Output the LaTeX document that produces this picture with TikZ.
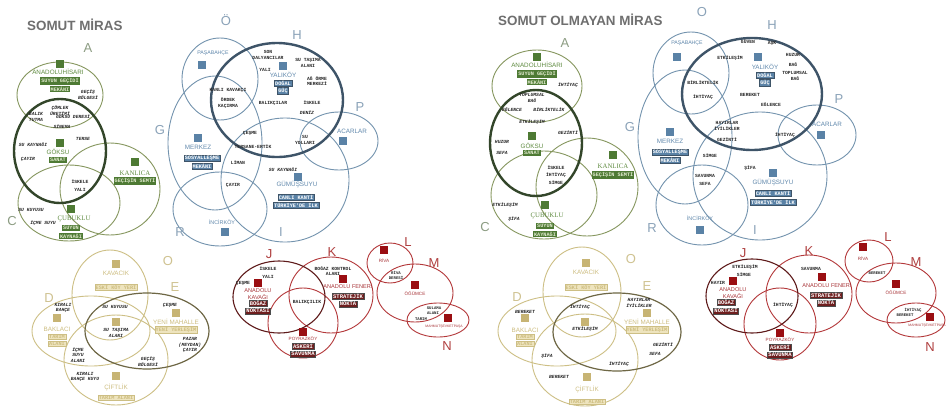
\documentclass[tikz,border=0pt]{standalone}
\usepackage{fontspec}
\setmainfont{Liberation Sans}
\newfontfamily\fsans{Liberation Sans}
\newfontfamily\fserif{Liberation Serif}
\newfontfamily\fmono{Liberation Mono}
\newcommand\fsz[2]{\fontsize{#1}{#2}\selectfont}
\definecolor{TitleGray}{HTML}{6F6F6F}
\definecolor{GrLine}{HTML}{86975F}
\definecolor{GrDark}{HTML}{33462A}
\definecolor{GrSq}{HTML}{4E7A34}
\definecolor{GrLab}{HTML}{5F8B40}
\definecolor{GrLtr}{HTML}{8C9C82}
\definecolor{GrTagT}{HTML}{E2EBCF}
\definecolor{BlLine}{HTML}{7393AE}
\definecolor{BlDark}{HTML}{3E5468}
\definecolor{BlSq}{HTML}{5A82A6}
\definecolor{BlLab}{HTML}{6088AC}
\definecolor{BlLtr}{HTML}{8AA2B8}
\definecolor{YeLine}{HTML}{CDBF85}
\definecolor{YeDark}{HTML}{6E6745}
\definecolor{YeSq}{HTML}{C7B474}
\definecolor{YeLab}{HTML}{CDBD80}
\definecolor{YeTag}{HTML}{EEE4BE}
\definecolor{YeLtr}{HTML}{CFC290}
\definecolor{ReLine}{HTML}{B3383A}
\definecolor{ReDark}{HTML}{5E1A1A}
\definecolor{ReSq}{HTML}{9A0E12}
\definecolor{ReLab}{HTML}{A83438}
\definecolor{ReTag}{HTML}{6E1E1E}
\definecolor{ReLtr}{HTML}{B04040}
\begin{document}
\begin{tikzpicture}[x=1pt,y=-1pt,
  wd/.style={font=\fmono\bfseries\fsz{4.7}{5.8}, inner sep=0, align=center, text=black!85},
  wi/.style={font=\fmono\bfseries\itshape\fsz{4.7}{5.8}, inner sep=0, align=center, text=black!85},
  lab/.style={font=\fsans\fsz{6.3}{6.6}, inner sep=0, align=center},
  labs/.style={font=\fsans\fsz{4.6}{5}, inner sep=0, align=center},
  labr/.style={font=\fserif\fsz{6.8}{7}, inner sep=0},
  tg/.style={font=\fmono\bfseries\fsz{5.2}{5.4}, inner sep=0.9pt},
  sq/.style={minimum size=8.5pt, inner sep=0, draw=none},
  ltr/.style={font=\fsans\fsz{13}{13}, inner sep=0},
  ttl/.style={font=\fsans\bfseries\fsz{13.4}{14}, inner sep=0, anchor=west, text=TitleGray},
  Gel/.style={draw=GrLine, line width=0.9pt},
  Gth/.style={draw=GrDark, line width=2.4pt},
  Gsq/.style={sq, fill=GrSq},
  Glab/.style={lab, text=GrLab},
  Gser/.style={labr, text=GrLab},
  Gtag/.style={tg, fill=GrSq, text=GrTagT},
  Gltr/.style={ltr, text=GrLtr},
  Bel/.style={draw=BlLine, line width=0.9pt},
  Bth/.style={draw=BlDark, line width=2.4pt},
  Bsq/.style={sq, fill=BlSq},
  Blab/.style={lab, text=BlLab},
  Btag/.style={tg, fill=BlSq, text=white, draw=BlDark, line width=0.3pt},
  Bltr/.style={ltr, text=BlLtr},
  Yel/.style={draw=YeLine, line width=0.9pt},
  Yth/.style={draw=YeDark, line width=1.2pt},
  Ysq/.style={sq, minimum size=8pt, fill=YeSq},
  Ylab/.style={lab, text=YeLab},
  Ytag/.style={tg, fill=YeTag, text=YeLab, draw=YeLine, line width=0.3pt},
  Yltr/.style={ltr, text=YeLtr},
  Rel/.style={draw=ReLine, line width=0.9pt},
  Rth/.style={draw=ReDark, line width=1.1pt},
  Rsq/.style={sq, minimum size=7.5pt, fill=ReSq},
  Rlab/.style={lab, font=\fsans\fsz{5.6}{6.2}, text=ReLab},
  Rlabs/.style={labs, text=ReLab},
  Rtag/.style={tg, font=\fmono\bfseries\fsz{5.5}{5.6}, fill=ReTag, text=white, draw=black!70, line width=0.3pt},
  Rltr/.style={ltr, text=ReLtr}
]
\path[use as bounding box, fill=white] (0,0) rectangle (946,408);

% ================= SOMUT MIRAS : green =================
\draw[Gel] (60,95) ellipse [x radius=43pt, y radius=33pt];
\draw[Gel] (110,189) ellipse [x radius=50pt, y radius=46pt];
\draw[Gel] (69,203) ellipse [x radius=51pt, y radius=38pt];
\draw[Gth] (60,151) ellipse [x radius=46pt, y radius=52pt];
\node[ttl] (t1) at (27,25) {SOMUT MİRAS};
\node[Gltr] (gA) at (88,48) {A};
\node[Gltr] (gC) at (12,221) {C};
\node[Gsq] (g1s) at (60,64) {};
\node[Glab] (g1l) at (58,72) {ANADOLUHİSARI};
\node[Gtag] (g1t1) at (60,81) {SUYUN GEÇİDİ};
\node[Gtag] (g1t2) at (60,89) {MEKÂNI};
\node[wi] (g1w1) at (88,94.5) {GEÇİŞ\\BÖLGESİ};
\node[wi] (g1w2) at (60,111) {ÇÖMLEK\\ÜRETİMİ};
\node[wi] (g1w3) at (36,117) {BALIK\\TUTMA};
\node[wi] (g1w4) at (73,117) {GÖKSU DERESİ};
\node[wi] (g1w5) at (62,127) {SİNEMA};
\node[wi] (g1w6) at (33,145) {SU KAYNAĞI};
\node[wi] (g1w7) at (83,139) {TERSE};
\node[wi] (g1w8) at (28,159) {ÇAYIR};
\node[Gsq] (g2s) at (60,143) {};
\node[Glab] (g2l) at (58,152) {GÖKSU};
\node[Gtag] (g2t) at (58,160) {SANAT};
\node[Gsq] (g3s) at (135,162) {};
\node[Gser] (g3l) at (135,173) {KANLICA};
\node[Gtag] (g3t) at (135,181) {GEÇİŞİN SEMTİ};
\node[wd] (g1w9) at (80,185.5) {İSKELE\\[1.8pt]YALI};
\node[wi] (g1w10) at (31,210) {SU KUYUSU};
\node[wi] (g1w11) at (43,223) {İÇME SUYU};
\node[Gsq] (g4s) at (71,209) {};
\node[Gser] (g4l) at (74,219) {ÇUBUKLU};
\node[Gtag] (g4t1) at (71,228) {SUYUN};
\node[Gtag] (g4t2) at (71,236) {KAYNAĞI};

% ================= SOMUT MIRAS : blue =================
\draw[Bel] (220,79) ellipse [x radius=38pt, y radius=41pt];
\draw[Bel] (215,143) ellipse [x radius=47pt, y radius=67pt];
\draw[Bel] (285,180) ellipse [x radius=64pt, y radius=62pt];
\draw[Bel] (220,209) ellipse [x radius=47pt, y radius=37pt];
\draw[Bel] (339,141) ellipse [x radius=39pt, y radius=29pt];
\draw[Bth] (277,100) ellipse [x radius=66pt, y radius=57pt];
\node[Bltr] (bO) at (226,20) {Ö};
\node[Bltr] (bH) at (297,35) {H};
\node[Bltr] (bG) at (160,130) {G};
\node[Bltr] (bP) at (360,107) {P};
\node[Bltr] (bR) at (180,232) {R};
\node[Bltr] (bI) at (281,232) {I};
\node[Blab, font=\fsans\fsz{5.2}{5.6}] (b1l) at (213,53) {PAŞABAHÇE};
\node[Bsq] (b1s) at (202,65) {};
\node[wd] (b1w1) at (268,55) {SON\\DALYANCILAR};
\node[wd] (b1w2) at (308,63) {SU TAŞIMA\\ALANI};
\node[wd] (b1w3) at (265,70) {YALI};
\node[Bsq] (b2s) at (283,66) {};
\node[Blab] (b2l) at (283,75) {YALIKÖY};
\node[Btag] (b2t1) at (283,83) {DOĞAL};
\node[Btag] (b2t2) at (283,90.5) {GÜÇ};
\node[wd] (b1w4) at (317,81) {AĞ ÖRME\\MERKEZİ};
\node[wd] (b1w5) at (228,90) {KANLI KAVAKÇI};
\node[wd] (b1w6) at (228,103) {ÖRDEK\\KAÇIRMA};
\node[wd] (b1w7) at (273,103) {BALIKÇILAR};
\node[wd] (b1w8) at (312,103) {İSKELE};
\node[wi] (b1w9) at (307,113) {DENİZ};
\node[wd] (b1w10) at (250,133) {ÇEŞME};
\node[wd] (b1w11) at (305,140) {SU\\YOLLARI};
\node[wd] (b1w12) at (253,147) {TERSANE-ERTİK};
\node[Blab] (b3l) at (352,131) {ACARLAR};
\node[Bsq] (b3s) at (343,141) {};
\node[Bsq] (b4s) at (198,138) {};
\node[Blab] (b4l) at (198,147) {MERKEZ};
\node[Btag] (b4t1) at (202,158) {SOSYALLEŞME};
\node[Btag] (b4t2) at (202,166) {MEKÂNI};
\node[wd] (b1w13) at (238,163) {LİMAN};
\node[wi] (b1w14) at (283,170) {SU KAYNAĞI};
\node[wd] (b1w15) at (233,185) {ÇAYIR};
\node[Bsq] (b5s) at (298,177) {};
\node[Blab] (b5l) at (297,185) {GÜMÜŞSUYU};
\node[Btag] (b5t1) at (296,197) {CANLI KANTİ};
\node[Btag] (b5t2) at (296,205) {TÜRKİYE'DE İLK};
\node[Blab, font=\fsans\fsz{5.4}{5.8}] (b6l) at (222,222) {İNCİRKÖY};
\node[Bsq] (b6s) at (225,232) {};

% ================= SOMUT OLMAYAN MIRAS : green =================
\draw[Gel] (537,86) ellipse [x radius=45pt, y radius=36pt];
\draw[Gel] (587,187) ellipse [x radius=51pt, y radius=49pt];
\draw[Gel] (544,195) ellipse [x radius=53pt, y radius=44pt];
\draw[Gth] (536,143) ellipse [x radius=46pt, y radius=53pt];
\node[ttl] (t2) at (498,20) {SOMUT OLMAYAN MİRAS};
\node[Gltr] (hA) at (565,43) {A};
\node[Gltr] (hC) at (485,227) {C};
\node[Gsq] (h1s) at (537,57) {};
\node[Glab] (h1l) at (537,65) {ANADOLUHİSARI};
\node[Gtag] (h1t1) at (537,74) {SUYUN GEÇİDİ};
\node[Gtag] (h1t2) at (537,82) {MEKÂNI};
\node[wi] (h1w1) at (568,85) {İHTİYAÇ};
\node[wi] (h1w2) at (532,98) {TOPLUMSAL\\BAĞ};
\node[wi] (h1w3) at (512,110) {EĞLENCE};
\node[wi] (h1w4) at (549,110) {BİRLİKTELİK};
\node[wi] (h1w5) at (532,122) {ETKİLEŞİM};
\node[wi] (h1w6) at (568,133) {GEZİNTİ};
\node[wi] (h1w7) at (502,142) {HUZUR};
\node[wi] (h1w8) at (502,153) {SEFA};
\node[Gsq] (h2s) at (532,136) {};
\node[Glab] (h2l) at (532,146) {GÖKSU};
\node[Gtag] (h2t) at (532,153) {SANAT};
\node[Gsq] (h3s) at (613,155) {};
\node[Gser] (h3l) at (613,166) {KANLICA};
\node[Gtag] (h3t) at (613,175) {GEÇİŞİN SEMTİ};
\node[wd] (h1w9) at (556,175) {İSKELE\\[1.8pt]İHTİYAÇ\\[1.8pt]SİMGE};
\node[wi] (h1w10) at (505,205) {ETKİLEŞİM};
\node[wi] (h1w11) at (514,219) {ŞİFA};
\node[Gsq] (h4s) at (545,205) {};
\node[Gser] (h4l) at (547,216) {ÇUBUKLU};
\node[Gtag] (h4t1) at (545,226) {SUYUN};
\node[Gtag] (h4t2) at (545,234) {KAYNAĞI};

% ================= SOMUT OLMAYAN MIRAS : blue =================
\draw[Bel] (691,73) ellipse [x radius=38pt, y radius=41pt];
\draw[Bel] (685,137) ellipse [x radius=47pt, y radius=67pt];
\draw[Bel] (760,176) ellipse [x radius=67pt, y radius=64pt];
\draw[Bel] (702,205) ellipse [x radius=46pt, y radius=40pt];
\draw[Bel] (817,135) ellipse [x radius=39pt, y radius=30pt];
\draw[Bth] (752,94) ellipse [x radius=70pt, y radius=56pt];
\node[Bltr] (cO) at (702,12) {O};
\node[Bltr] (cH) at (772,25) {H};
\node[Bltr] (cG) at (630,127) {G};
\node[Bltr] (cP) at (839,99) {P};
\node[Bltr] (cR) at (652,228) {R};
\node[Bltr] (cI) at (755,230) {I};
\node[Blab, font=\fsans\fsz{5.2}{5.6}] (c1l) at (687,43) {PAŞABAHÇE};
\node[Bsq] (c1s) at (677,57) {};
\node[wd] (c1w1) at (748,42) {GÜVEN};
\node[wd] (c1w2) at (772,43) {AŞK};
\node[wd] (c1w3) at (793,55) {HUZUR};
\node[wd] (c1w4) at (793,65) {BAĞ};
\node[wd] (c1w5) at (795,76) {TOPLUMSAL\\BAĞ};
\node[wd] (c1w6) at (730,58) {ETKİLEŞİM};
\node[Bsq] (c2s) at (758,57) {};
\node[Blab] (c2l) at (765,67) {YALIKÖY};
\node[Btag] (c2t1) at (765,75) {DOĞAL};
\node[Btag] (c2t2) at (765,82.5) {GÜÇ};
\node[wd] (c1w7) at (703,83) {BİRLİKTELİK};
\node[wd] (c1w8) at (703,97) {İHTİYAÇ};
\node[wd] (c1w9) at (750,95) {BEREKET};
\node[wd] (c1w10) at (771,105) {EĞLENCE};
\node[wd] (c1w11) at (727,126) {HAYIRLAR\\İYİLİKLER};
\node[wd] (c1w12) at (727,140) {GEZİNTİ};
\node[wd] (c1w13) at (785,135) {İHTİYAÇ};
\node[Blab] (c3l) at (827,124) {ACARLAR};
\node[Bsq] (c3s) at (821,135) {};
\node[Bsq] (c4s) at (670,132) {};
\node[Blab] (c4l) at (670,141) {MERKEZ};
\node[Btag] (c4t1) at (670,152) {SOSYALLEŞME};
\node[Btag] (c4t2) at (670,160) {MEKÂNI};
\node[wd] (c1w14) at (710,156) {SİMGE};
\node[wd] (c1w15) at (750,168) {ŞİFA};
\node[wd] (c1w16) at (705,176) {SAVUNMA};
\node[wd] (c1w17) at (705,184) {SEFA};
\node[Bsq] (c5s) at (773,173) {};
\node[Blab] (c5l) at (773,183) {GÜMÜŞSUYU};
\node[Btag] (c5t1) at (773,193) {CANLI KANTİ};
\node[Btag] (c5t2) at (773,202) {TÜRKİYE'DE İLK};
\node[Blab, font=\fsans\fsz{5.4}{5.8}] (c6l) at (700,218) {İNCİRKÖY};
\node[Bsq] (c6s) at (700,230) {};

% ================= yellow left =================
\draw[Yel] (110,295) ellipse [x radius=38pt, y radius=45pt];
\draw[Yel] (91,331) ellipse [x radius=59pt, y radius=35pt];
\draw[Yel] (116,360) ellipse [x radius=52pt, y radius=45pt];
\draw[Yth] (147,331) ellipse [x radius=62pt, y radius=38pt];
\node[Yltr] (yO) at (168,261) {O};
\node[Yltr] (yE) at (175,287) {E};
\node[Yltr] (yD) at (49,298) {D};
\node[Ysq] (y1s) at (116,264) {};
\node[Ylab] (y1l) at (116,273) {KAVACIK};
\node[Ytag] (y1t) at (116,287) {ESKİ KÖY YERİ};
\node[wi] (y1w1) at (63,308) {KIRALI\\BAHÇE};
\node[wi] (y1w2) at (115,307) {SU KUYUSU};
\node[wi] (y1w3) at (170,305) {ÇEŞME};
\node[Ysq] (y2s) at (57,318) {};
\node[Ylab] (y2l) at (57,329) {BAKLACI};
\node[Ytag] (y2t1) at (57,337) {TARIM};
\node[Ytag] (y2t2) at (57,344) {ALANI};
\node[Ysq] (y3s) at (116,322) {};
\node[wi] (y1w4) at (116,333) {SU TAŞIMA\\ALANI};
\node[Ysq] (y4s) at (176,313) {};
\node[Ylab] (y4l) at (176,322) {YENİ MAHALLE};
\node[Ytag] (y4t) at (176,330) {YENİ YERLEŞİM};
\node[wi] (y1w5) at (190,345) {PAZAR\\(MEYDAN)\\ÇAYIR};
\node[wi] (y1w6) at (78,355) {İÇME\\SUYU\\ALANI};
\node[wi] (y1w7) at (148,362) {GEÇİŞ\\BÖLGESİ};
\node[wi] (y1w8) at (85,377) {KIRALI\\BAHÇE KUYU};
\node[Ysq] (y5s) at (116,376) {};
\node[Ylab] (y5l) at (116,387) {ÇİFTLİK};
\node[Ytag] (y5t) at (116,398) {TARIM ALANI};

% ================= yellow right =================
\draw[Yel] (582,292) ellipse [x radius=39pt, y radius=45pt];
\draw[Yel] (557,331) ellipse [x radius=59pt, y radius=35pt];
\draw[Yel] (585,360) ellipse [x radius=53pt, y radius=46pt];
\draw[Yth] (617,332) ellipse [x radius=64pt, y radius=39pt];
\node[Yltr] (zO) at (631,259) {O};
\node[Yltr] (zE) at (647,286) {E};
\node[Yltr] (zD) at (517,297) {D};
\node[Ysq] (z1s) at (586,263) {};
\node[Ylab] (z1l) at (586,272) {KAVACIK};
\node[Ytag] (z1t) at (586,287) {ESKİ KÖY YERİ};
\node[wi] (z1w1) at (580,307) {İHTİYAÇ};
\node[wi] (z1w2) at (525,312) {BEREKET};
\node[wi] (z1w3) at (639,303) {HAYIRLAR\\İYİLİKLER};
\node[Ysq] (z2s) at (525,318) {};
\node[Ylab] (z2l) at (525,330) {BAKLACI};
\node[Ytag] (z2t1) at (525,337) {TARIM};
\node[Ytag] (z2t2) at (525,344) {ALANI};
\node[Ysq] (z3s) at (585,322) {};
\node[wi] (z1w4) at (585,329) {ETKİLEŞİM};
\node[Ysq] (z4s) at (647,313) {};
\node[Ylab] (z4l) at (647,322) {YENİ MAHALLE};
\node[Ytag] (z4t) at (647,330) {YENİ YERLEŞİM};
\node[wi] (z1w5) at (663,345) {GEZİNTİ};
\node[wi] (z1w6) at (655,354) {SEFA};
\node[wi] (z1w7) at (547,356) {ŞİFA};
\node[wi] (z1w8) at (619,364) {İHTİYAÇ};
\node[wi] (z1w9) at (559,377) {BEREKET};
\node[Ysq] (z5s) at (587,377) {};
\node[Ylab] (z5l) at (587,389) {ÇİFTLİK};
\node[Ytag] (z5t) at (587,402) {TARIM ALANI};

% ================= red left =================
\draw[Rel] (331,295) ellipse [x radius=42pt, y radius=38pt];
\draw[Rel] (303,323) ellipse [x radius=35pt, y radius=35pt];
\draw[Rth] (279,297) ellipse [x radius=46pt, y radius=36pt];
\draw[Rel] (390,263) ellipse [x radius=23pt, y radius=20pt];
\draw[Rel] (415,293) ellipse [x radius=38pt, y radius=29pt];
\draw[Rel] (438,320) ellipse [x radius=31pt, y radius=17pt];
\node[Rltr] (rJ) at (269,254) {J};
\node[Rltr] (rK) at (332,252) {K};
\node[Rltr] (rL) at (408,242) {L};
\node[Rltr] (rM) at (434,263) {M};
\node[Rltr] (rN) at (447,346) {N};
\node[wd] (r1w1) at (268,269) {İSKELE};
\node[wd] (r1w2) at (268,277) {YALI};
\node[wd] (r1w3) at (243,283) {ÇEŞME};
\node[Rsq] (r1s) at (258,283) {};
\node[Rlab] (r1l) at (258,294) {ANADOLU\\KAVAĞI};
\node[Rtag] (r1t1) at (258,303) {BOĞAZ};
\node[Rtag] (r1t2) at (258,311) {NOKTASI};
\node[wd] (r1w4) at (333,271) {BOĞAZ KONTROL\\ALANI};
\node[Rsq] (r2s) at (343,279) {};
\node[Rlab] (r2l) at (348,286) {ANADOLU FENERİ};
\node[Rtag] (r2t1) at (348,296) {STRATEJİK};
\node[Rtag] (r2t2) at (348,304) {NOKTA};
\node[wd] (r1w5) at (307,302) {BALIKÇILIK};
\node[Rsq] (r3s) at (303,332) {};
\node[Rlabs] (r3l) at (303,339) {POYRAZKÖY};
\node[Rtag] (r3t1) at (303,346.5) {ASKERİ};
\node[Rtag] (r3t2) at (303,354) {SAVUNMA};
\node[Rsq] (r4s) at (384,250) {};
\node[Rlabs] (r4l) at (384,260) {RİVA};
\node[wd, font=\fmono\bfseries\fsz{4}{5}] (r1w6) at (396,275) {RİVA\\DERESİ};
\node[Rsq] (r5s) at (415,285) {};
\node[Rlabs] (r5l) at (415,294) {ÖĞÜMCE};
\node[wd, font=\fmono\bfseries\fsz{4}{5}] (r1w7) at (434,308) {SULAMA};
\node[wd, font=\fmono\bfseries\fsz{4}{5}] (r1w8) at (433,313.5) {ALANI};
\node[wd, font=\fmono\bfseries\fsz{4}{5}] (r1w9) at (421,319) {TARIM};
\node[Rsq] (r6s) at (448,318) {};
\node[Rlabs, font=\fsans\fsz{3.4}{4}] (r6l) at (444,327) {MAHMUTŞEVKETPAŞA};

% ================= red right =================
\draw[Rel] (809,294) ellipse [x radius=43pt, y radius=39pt];
\draw[Rel] (780,324) ellipse [x radius=36pt, y radius=36pt];
\draw[Rth] (752,296) ellipse [x radius=46pt, y radius=37pt];
\draw[Rel] (869,261) ellipse [x radius=24pt, y radius=21pt];
\draw[Rel] (896,293) ellipse [x radius=40pt, y radius=30pt];
\draw[Rel] (916,320) ellipse [x radius=29pt, y radius=17pt];
\node[Rltr] (sJ) at (743,253) {J};
\node[Rltr] (sK) at (809,251) {K};
\node[Rltr] (sL) at (888,237) {L};
\node[Rltr] (sM) at (916,262) {M};
\node[Rltr] (sN) at (930,347) {N};
\node[wd] (s1w1) at (745,267) {ETKİLEŞİM};
\node[wd] (s1w2) at (744,275) {SİMGE};
\node[wd] (s1w3) at (718,283) {HAYIR};
\node[Rsq] (s1s) at (733,281) {};
\node[Rlab] (s1l) at (733,293) {ANADOLU\\KAVAĞI};
\node[Rtag] (s1t1) at (726,302) {BOĞAZ};
\node[Rtag] (s1t2) at (726,311) {NOKTASI};
\node[wd] (s1w4) at (811,269) {SAVUNMA};
\node[Rsq] (s2s) at (822,277) {};
\node[Rlab] (s2l) at (827,285) {ANADOLU FENERİ};
\node[Rtag] (s2t1) at (826,295) {STRATEJİK};
\node[Rtag] (s2t2) at (826,303) {NOKTA};
\node[wd] (s1w5) at (783,305) {İHTİYAÇ};
\node[Rsq] (s3s) at (780,333) {};
\node[Rlabs] (s3l) at (780,340) {POYRAZKÖY};
\node[Rtag] (s3t1) at (780,347.5) {ASKERİ};
\node[Rtag] (s3t2) at (780,355) {SAVUNMA};
\node[Rsq] (s4s) at (863,247) {};
\node[Rlabs] (s4l) at (863,258) {RİVA};
\node[wd, font=\fmono\bfseries\fsz{4}{5}] (s1w6) at (877,273) {BEREKET};
\node[Rsq] (s5s) at (896,284) {};
\node[Rlabs] (s5l) at (896,293) {ÖĞÜMCE};
\node[wd, font=\fmono\bfseries\fsz{4}{5}] (s1w7) at (913,310) {İHTİYAÇ};
\node[wd, font=\fmono\bfseries\fsz{4}{5}] (s1w8) at (905,315.5) {BEREKET};
\node[Rsq] (s6s) at (930,317) {};
\node[Rlabs, font=\fsans\fsz{3.4}{4}] (s6l) at (927,326) {MAHMUTŞEVKETPAŞA};
\end{tikzpicture}
\end{document}
